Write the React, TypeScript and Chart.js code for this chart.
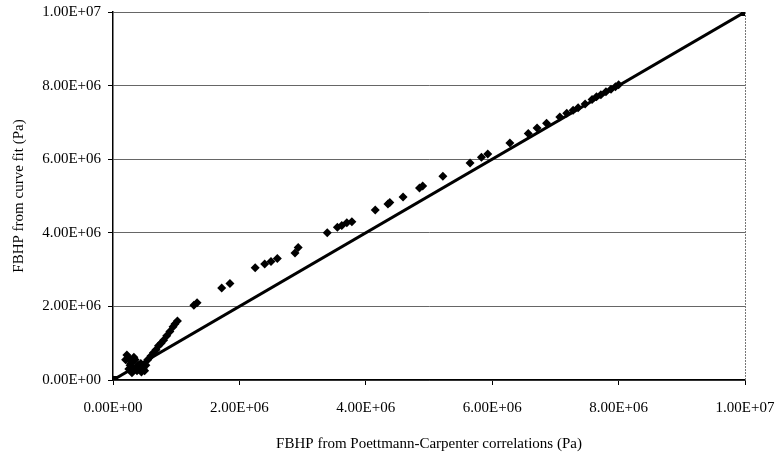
import React, { useEffect, useRef } from "react";
import { Chart, registerables } from "chart.js";

Chart.register(...registerables);

// Data (values in Pa)
const pcValues: number[] = [
  0, 0.2e6, 0.22e6, 0.25e6, 0.28e6, 0.3e6, 0.32e6, 0.35e6, 0.38e6, 0.4e6, 0.42e6, 0.45e6, 0.48e6, 0.5e6,
  0.3e6, 0.25e6, 0.35e6, 0.27e6, 0.33e6, 0.44e6, 0.52e6, 0.55e6, 0.6e6,
  0.64e6, 0.68e6, 0.72e6, 0.76e6, 0.8e6, 0.85e6, 0.9e6, 0.95e6, 0.98e6, 1.02e6,
  1.28e6, 1.33e6, 1.72e6, 1.85e6, 2.25e6, 2.4e6, 2.5e6, 2.6e6, 2.88e6, 2.93e6,
  3.39e6, 3.55e6, 3.62e6, 3.7e6, 3.78e6, 4.15e6, 4.35e6, 4.38e6, 4.59e6, 4.85e6, 4.9e6,
  5.22e6, 5.65e6, 5.83e6, 5.93e6, 6.28e6, 6.57e6, 6.71e6, 6.86e6, 7.07e6, 7.18e6, 7.28e6,
  7.36e6, 7.47e6, 7.58e6, 7.65e6, 7.72e6, 7.8e6, 7.88e6, 7.95e6, 8.0e6,
];
const fitValues: number[] = [
  0, 0.55e6, 0.68e6, 0.6e6, 0.45e6, 0.35e6, 0.5e6, 0.3e6, 0.25e6, 0.4e6, 0.28e6, 0.22e6, 0.3e6, 0.25e6,
  0.2e6, 0.3e6, 0.55e6, 0.4e6, 0.62e6, 0.45e6, 0.4e6, 0.55e6, 0.65e6,
  0.74e6, 0.82e6, 0.93e6, 1.0e6, 1.08e6, 1.2e6, 1.32e6, 1.45e6, 1.52e6, 1.6e6,
  2.03e6, 2.1e6, 2.5e6, 2.62e6, 3.05e6, 3.15e6, 3.22e6, 3.3e6, 3.45e6, 3.6e6,
  4.0e6, 4.15e6, 4.2e6, 4.27e6, 4.3e6, 4.62e6, 4.78e6, 4.82e6, 4.97e6, 5.22e6, 5.27e6,
  5.54e6, 5.9e6, 6.05e6, 6.14e6, 6.44e6, 6.7e6, 6.85e6, 6.98e6, 7.15e6, 7.25e6, 7.33e6,
  7.4e6, 7.5e6, 7.62e6, 7.7e6, 7.75e6, 7.83e6, 7.9e6, 7.97e6, 8.02e6,
];
const lineX: number[] = [0, 1e7];
const lineY: number[] = [0, 1e7];
const axisMin = 0;
const axisMax = 1e7;
const axisStep = 2e6;
const xTitle = "FBHP from Poettmann-Carpenter correlations (Pa)";
const yTitle = "FBHP from curve fit (Pa)";

function fmtE(v: number): string {
  if (v === 0) return "0.00E+00";
  const exp = Math.floor(Math.log10(Math.abs(v)));
  const mant = v / Math.pow(10, exp);
  const sign = exp < 0 ? "-" : "+";
  return mant.toFixed(2) + "E" + sign + String(Math.abs(exp)).padStart(2, "0");
}

const FONT = "'Liberation Serif', 'Times New Roman', serif";

export default function App() {
  const ref = useRef<HTMLCanvasElement | null>(null);
  useEffect(() => {
    document.body.style.margin = "0";
    const canvas = ref.current;
    if (!canvas) return;
    const rightBorder = {
      id: "rightBorder",
      afterDraw(chart: any) {
        const { ctx, chartArea } = chart;
        ctx.save();
        ctx.strokeStyle = "#777";
        ctx.lineWidth = 1;
        ctx.setLineDash([2, 1]);
        ctx.beginPath();
        ctx.moveTo(Math.round(chartArea.right) + 0.5, chartArea.top);
        ctx.lineTo(Math.round(chartArea.right) + 0.5, chartArea.bottom);
        ctx.stroke();
        ctx.restore();
      },
    };
    const chart = new Chart(canvas, {
      type: "scatter",
      data: {
        datasets: [
          {
            type: "line",
            data: lineX.map((x, i) => ({ x, y: lineY[i] })),
            borderColor: "#000",
            backgroundColor: "#000",
            borderWidth: 3,
            pointStyle: "rect",
            pointRadius: 3.5,
            showLine: true,
          } as any,
          {
            type: "scatter",
            data: pcValues.map((x, i) => ({ x, y: fitValues[i] })),
            borderColor: "#000",
            backgroundColor: "#000",
            pointStyle: "rectRot",
            pointRadius: 4.5,
            borderWidth: 0,
          },
        ],
      },
      options: {
        animation: false,
        responsive: false,
        layout: { padding: { left: 0, right: 30, top: 12, bottom: 0 } },
        plugins: { legend: { display: false }, tooltip: { enabled: false } },
        scales: {
          x: {
            type: "linear",
            min: axisMin,
            max: axisMax,
            ticks: {
              stepSize: axisStep,
              callback: (v: any) => fmtE(Number(v)),
              color: "#000",
              font: { family: FONT, size: 15 },
              padding: 14,
              maxRotation: 0,
            },
            grid: { drawOnChartArea: false, color: "#000", tickLength: 5 },
            border: { color: "#000", width: 1.5 },
            title: {
              display: true,
              text: xTitle,
              color: "#000",
              font: { family: FONT, size: 15 },
              padding: { top: 12 },
            },
            afterFit: (s: any) => {
              s.height = 77;
              s.paddingLeft = 0;
              s.paddingRight = 0;
            },
          },
          y: {
            type: "linear",
            min: axisMin,
            max: axisMax,
            ticks: {
              stepSize: axisStep,
              callback: (v: any) => fmtE(Number(v)),
              color: "#000",
              font: { family: FONT, size: 15 },
              padding: 7,
            },
            grid: { color: "#666", tickColor: "#000", tickLength: 5, lineWidth: 1 },
            border: { color: "#000", width: 1.5 },
            title: {
              display: true,
              text: yTitle,
              color: "#000",
              font: { family: FONT, size: 15 },
              padding: { top: 10, bottom: 6 },
            },
            afterFit: (s: any) => {
              s.width = 113;
              s.paddingTop = 0;
              s.paddingBottom = 0;
            },
          },
        },
      },
      plugins: [rightBorder],
    });
    return () => chart.destroy();
  }, []);
  return (
    <div style={{ width: 775, height: 457 }}>
      <canvas ref={ref} width={775} height={457} style={{ width: 775, height: 457, display: "block" }} />
    </div>
  );
}
